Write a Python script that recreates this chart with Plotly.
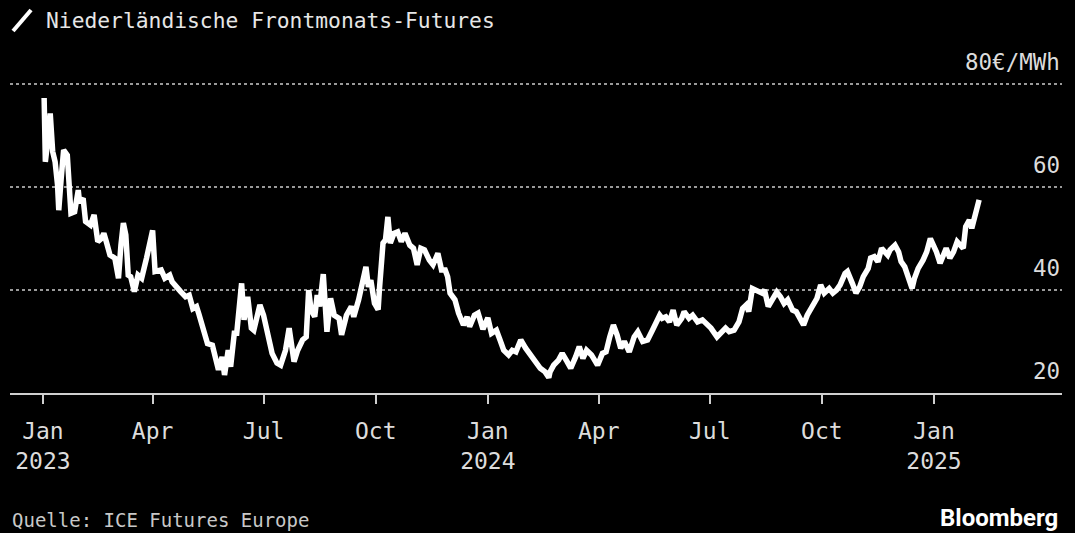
import plotly.graph_objects as go

# front-month Dutch TTF futures, EUR/MWh
dates = [
    "2023-01-02", "2023-01-03", "2023-01-05", "2023-01-07", "2023-01-09", "2023-01-11",
    "2023-01-13", "2023-01-14", "2023-01-16", "2023-01-18", "2023-01-21", "2023-01-23",
    "2023-01-24", "2023-01-27", "2023-01-30", "2023-01-31", "2023-02-03", "2023-02-05",
    "2023-02-09", "2023-02-12", "2023-02-15", "2023-02-18", "2023-02-20", "2023-02-22",
    "2023-02-25", "2023-03-01", "2023-03-04", "2023-03-06", "2023-03-08", "2023-03-10",
    "2023-03-12", "2023-03-14", "2023-03-17", "2023-03-20", "2023-03-23", "2023-03-27",
    "2023-03-31", "2023-04-01", "2023-04-03", "2023-04-08", "2023-04-11", "2023-04-15",
    "2023-04-17", "2023-04-20", "2023-04-24", "2023-04-28", "2023-05-01", "2023-05-04",
    "2023-05-07", "2023-05-09", "2023-05-12", "2023-05-16", "2023-05-20", "2023-05-23",
    "2023-05-25", "2023-05-28", "2023-05-30", "2023-06-02", "2023-06-04", "2023-06-07",
    "2023-06-09", "2023-06-13", "2023-06-15", "2023-06-18", "2023-06-21", "2023-06-23",
    "2023-06-28", "2023-07-01", "2023-07-04", "2023-07-08", "2023-07-12", "2023-07-15",
    "2023-07-19", "2023-07-22", "2023-07-26", "2023-07-29", "2023-08-02", "2023-08-05",
    "2023-08-07", "2023-08-09", "2023-08-12", "2023-08-14", "2023-08-16", "2023-08-19",
    "2023-08-22", "2023-08-25", "2023-08-28", "2023-09-01", "2023-09-03", "2023-09-07",
    "2023-09-11", "2023-09-13", "2023-09-17", "2023-09-20", "2023-09-23", "2023-09-25",
    "2023-09-27", "2023-09-30", "2023-10-03", "2023-10-04", "2023-10-07", "2023-10-09",
    "2023-10-11", "2023-10-13", "2023-10-16", "2023-10-19", "2023-10-22", "2023-10-25",
    "2023-10-29", "2023-11-01", "2023-11-04", "2023-11-07", "2023-11-10", "2023-11-14",
    "2023-11-17", "2023-11-21", "2023-11-24", "2023-11-27", "2023-11-29", "2023-12-01",
    "2023-12-05", "2023-12-08", "2023-12-12", "2023-12-15", "2023-12-17", "2023-12-21",
    "2023-12-24", "2023-12-28", "2024-01-01", "2024-01-04", "2024-01-08", "2024-01-11",
    "2024-01-14", "2024-01-18", "2024-01-21", "2024-01-24", "2024-01-28", "2024-02-01",
    "2024-02-05", "2024-02-09", "2024-02-13", "2024-02-17", "2024-02-20", "2024-02-21",
    "2024-02-24", "2024-02-28", "2024-03-02", "2024-03-06", "2024-03-09", "2024-03-13",
    "2024-03-16", "2024-03-19", "2024-03-22", "2024-03-26", "2024-03-31", "2024-04-04",
    "2024-04-07", "2024-04-10", "2024-04-13", "2024-04-16", "2024-04-19", "2024-04-22",
    "2024-04-26", "2024-04-30", "2024-05-03", "2024-05-07", "2024-05-11", "2024-05-15",
    "2024-05-18", "2024-05-21", "2024-05-23", "2024-05-26", "2024-05-29", "2024-06-01",
    "2024-06-04", "2024-06-08", "2024-06-10", "2024-06-14", "2024-06-17", "2024-06-21",
    "2024-06-25", "2024-06-28", "2024-07-02", "2024-07-07", "2024-07-10", "2024-07-14",
    "2024-07-17", "2024-07-21", "2024-07-25", "2024-07-28", "2024-07-31", "2024-08-02",
    "2024-08-05", "2024-08-09", "2024-08-13", "2024-08-15", "2024-08-18", "2024-08-21",
    "2024-08-25", "2024-08-28", "2024-08-31", "2024-09-03", "2024-09-07", "2024-09-10",
    "2024-09-14", "2024-09-16", "2024-09-19", "2024-09-23", "2024-09-27", "2024-09-30",
    "2024-10-03", "2024-10-07", "2024-10-10", "2024-10-13", "2024-10-16", "2024-10-20",
    "2024-10-22", "2024-10-26", "2024-10-29", "2024-11-01", "2024-11-04", "2024-11-08",
    "2024-11-10", "2024-11-13", "2024-11-16", "2024-11-19", "2024-11-22", "2024-11-24",
    "2024-11-26", "2024-11-30", "2024-12-03", "2024-12-05", "2024-12-08", "2024-12-11",
    "2024-12-14", "2024-12-16", "2024-12-19", "2024-12-23", "2024-12-26", "2024-12-29",
    "2025-01-01", "2025-01-03", "2025-01-06", "2025-01-09", "2025-01-11", "2025-01-14",
    "2025-01-17", "2025-01-20", "2025-01-22", "2025-01-25", "2025-01-27", "2025-01-30",
    "2025-02-01", "2025-02-04", "2025-02-07",
]
prices = [
    77.3, 64.9, 69.0, 74.3, 66.9, 64.9,
    60.4, 55.5, 61.7, 67.2, 66.2, 59.1,
    54.9, 55.2, 59.4, 57.1, 57.8, 53.3,
    52.6, 54.6, 49.4, 50.0, 51.0, 49.4,
    46.8, 46.2, 42.3, 48.7, 53.0, 50.7,
    42.9, 42.6, 39.7, 42.9, 42.3, 46.2,
    51.3, 51.6, 43.6, 43.9, 42.3, 42.9,
    41.6, 40.6, 39.7, 38.7, 39.0, 36.4,
    36.8, 35.3, 32.6, 29.6, 29.3, 26.4,
    24.5, 27.0, 23.5, 28.3, 25.1, 31.6,
    31.6, 41.3, 34.2, 38.7, 32.6, 32.2,
    37.1, 35.1, 32.2, 27.7, 25.8, 25.4,
    28.3, 32.6, 26.1, 28.3, 30.3, 30.9,
    40.0, 36.1, 34.8, 39.0, 36.8, 43.1,
    31.9, 38.4, 35.1, 34.5, 31.3, 35.1,
    36.8, 34.8, 38.1, 41.3, 44.5, 40.6,
    41.9, 37.4, 36.2, 40.0, 49.1, 49.7,
    54.2, 49.1, 51.0, 51.3, 49.4, 51.0,
    48.7, 48.1, 44.9, 48.1, 47.8, 45.8,
    44.9, 47.1, 43.9, 43.9, 42.6, 39.4,
    38.1, 35.5, 33.2, 34.8, 32.9, 35.1,
    35.5, 32.4, 34.6, 31.6, 32.2, 30.3,
    28.3, 27.4, 28.3, 28.0, 30.3, 28.7,
    27.4, 25.8, 24.8, 24.1, 23.0, 24.1,
    25.4, 26.4, 27.7, 26.1, 24.8, 27.0,
    29.0, 26.7, 28.3, 27.4, 25.4, 27.7,
    28.0, 30.9, 33.2, 31.3, 28.7, 30.0,
    28.0, 30.9, 31.9, 30.0, 30.3, 32.2,
    33.5, 35.1, 34.5, 34.8, 33.8, 36.1,
    33.2, 34.5, 35.8, 34.5, 35.1, 33.8,
    34.2, 33.5, 32.6, 30.9, 31.6, 32.6,
    31.9, 32.2, 33.8, 36.4, 37.1, 35.8,
    40.3, 39.7, 39.4, 40.0, 36.8, 38.0,
    39.6, 38.7, 37.4, 38.1, 36.1, 35.8,
    34.2, 33.2, 35.1, 36.8, 38.4, 41.0,
    39.4, 40.3, 39.4, 40.0, 41.0, 43.2,
    43.6, 41.3, 39.4, 40.6, 42.6, 44.2,
    46.2, 46.5, 45.5, 48.1, 47.4, 46.8,
    47.8, 48.7, 47.4, 45.5, 44.5, 42.3,
    40.3, 42.3, 44.2, 45.8, 47.4, 50.0,
    48.7, 47.4, 45.2, 46.8, 48.1, 46.2,
    47.4, 49.4, 48.7, 48.1, 52.3, 53.6,
    52.0, 54.9, 57.5,
]

tick_dates = ["2023-01-01", "2023-04-01", "2023-07-01", "2023-10-01",
              "2024-01-01", "2024-04-01", "2024-07-01", "2024-10-01", "2025-01-01"]
tick_text = ["Jan<br>2023", "Apr", "Jul", "Oct", "Jan<br>2024", "Apr", "Jul", "Oct", "Jan<br>2025"]
y_levels = [20, 40, 60, 80]
y_labels = ["20", "40", "60", "80€/MWh"]

MONO = "DejaVu Sans Mono"
TXT = "#dcdcdc"

fig = go.Figure()
fig.add_trace(go.Scatter(x=dates, y=prices, mode="lines",
                         line=dict(color="white", width=5.5),
                         hoverinfo="skip", showlegend=False))

fig.update_layout(
    width=1075, height=533,
    paper_bgcolor="black", plot_bgcolor="black",
    margin=dict(l=10, r=13, t=82, b=140),
    font=dict(family=MONO, color=TXT, size=20),
    xaxis=dict(range=["2022-12-05", "2025-04-16"], tickvals=tick_dates, ticktext=tick_text,
               showgrid=False, zeroline=False,
               showline=True, linecolor="#cfcfcf", linewidth=2,
               ticks="outside", ticklen=9, tickwidth=1.5, tickcolor="#cfcfcf",
               ticklabelstandoff=7,
               tickfont=dict(family=MONO, size=23, color=TXT)),
    yaxis=dict(range=[20, 80.4], tickvals=y_levels, showticklabels=False,
               showgrid=True, gridcolor="#9a9a9a", griddash="dot", gridwidth=1.5,
               zeroline=False, showline=False),
)

# y labels sit above the gridlines on the right
for v, lab in zip(y_levels, y_labels):
    fig.add_annotation(x=1, xref="paper", y=v, yref="y", text=lab, showarrow=False,
                       xanchor="right", yanchor="bottom", yshift=7,
                       font=dict(family=MONO, size=22.5, color=TXT))

# title with the little line icon (paper y: plot spans px 82..393)
fig.add_shape(type="line", xref="paper", yref="paper",
              x0=0.0029, y0=(393 - 31) / 311, x1=0.02, y1=(393 - 10) / 311,
              line=dict(color="white", width=4))
fig.add_annotation(x=0.0323, y=(393 - 20) / 311, xref="paper", yref="paper",
                   text="Niederländische Frontmonats-Futures", showarrow=False,
                   xanchor="left", yanchor="middle",
                   font=dict(family=MONO, size=21.3, color="#e6e6e6"))

fig.add_annotation(x=0, y=(393 - 520) / 311, xref="paper", yref="paper",
                   text="Quelle: ICE Futures Europe", showarrow=False,
                   xanchor="left", yanchor="middle",
                   font=dict(family=MONO, size=19, color="#c8c8c8"))
fig.add_annotation(x=0.998, y=(393 - 518) / 311, xref="paper", yref="paper",
                   text="<b>Bloomberg</b>", showarrow=False,
                   xanchor="right", yanchor="middle",
                   font=dict(family="Roboto", size=24, color="white"))

fig.write_html("out.html", config={"displayModeBar": False},
               post_script="document.body.style.margin='0';document.body.style.background='black';")
